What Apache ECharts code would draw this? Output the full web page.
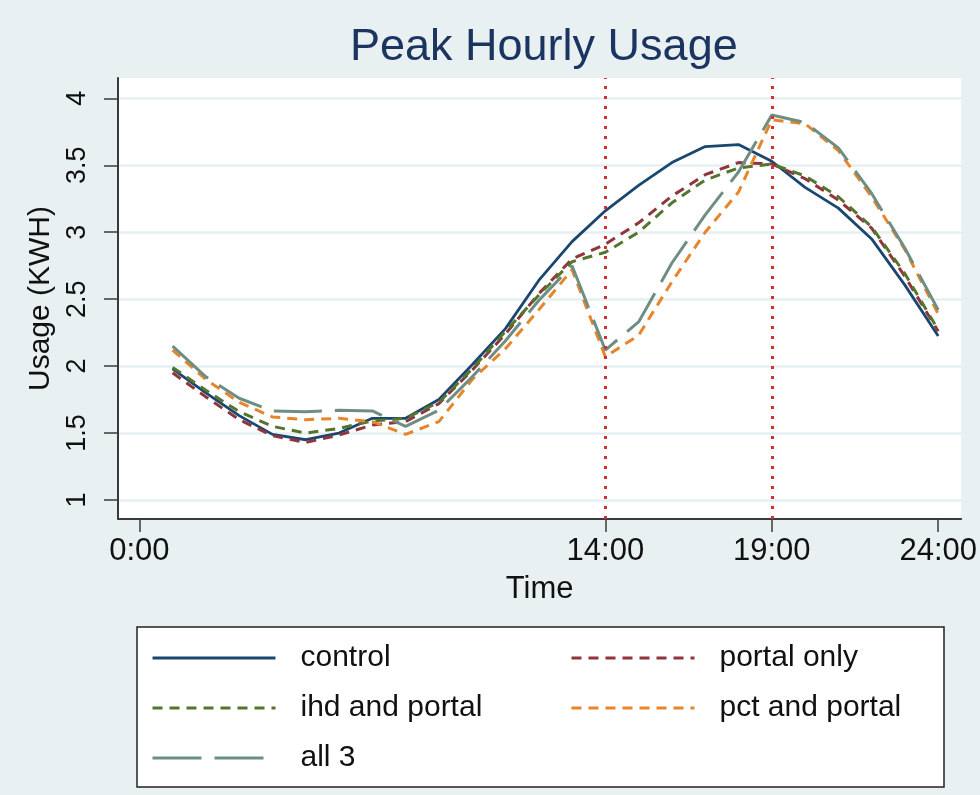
<!DOCTYPE html>
<html>
<head>
<meta charset="utf-8">
<title>Peak Hourly Usage</title>
<script src="https://cdn.jsdelivr.net/npm/echarts@6/dist/echarts.min.js"></script>
<style>
	html, body { margin: 0; padding: 0; background: #e8f0f2; }
	#chart { width: 980px; height: 795px; }
</style>
</head>
<body>
<div id="chart"></div>
<script>
// hour of day for each point
const hours = [1, 2, 3, 4, 5, 6, 7, 8, 9, 10, 11, 12, 13, 14, 15, 16, 17, 18, 19, 20, 21, 22, 23, 24];

const control = [1.98, 1.80, 1.63, 1.49, 1.45, 1.50, 1.61, 1.61, 1.75, 2.01, 2.28, 2.64,
	2.93, 3.16, 3.35, 3.52, 3.64, 3.655, 3.53, 3.335, 3.18, 2.95, 2.605, 2.225];
const portalOnly = [1.95, 1.77, 1.60, 1.48, 1.43, 1.485, 1.56, 1.585, 1.72, 1.97, 2.24, 2.54,
	2.80, 2.91, 3.07, 3.27, 3.43, 3.52, 3.51, 3.40, 3.24, 3.03, 2.67, 2.26];
const ihdPortal = [1.99, 1.82, 1.66, 1.55, 1.50, 1.535, 1.59, 1.61, 1.73, 1.98, 2.26, 2.53,
	2.78, 2.85, 3.00, 3.22, 3.39, 3.48, 3.51, 3.42, 3.265, 3.04, 2.69, 2.27];
const pctPortal = [2.12, 1.90, 1.73, 1.62, 1.60, 1.61, 1.585, 1.49, 1.585, 1.90, 2.13, 2.42,
	2.72, 2.07, 2.23, 2.63, 3.00, 3.30, 3.84, 3.81, 3.61, 3.265, 2.87, 2.39];
const all3 = [2.15, 1.92, 1.76, 1.665, 1.66, 1.67, 1.665, 1.55, 1.67, 1.92, 2.19, 2.49,
	2.75, 2.12, 2.33, 2.77, 3.13, 3.45, 3.875, 3.82, 3.63, 3.29, 2.88, 2.42];

const xTicks = [0, 14, 19, 24];
const yTicks = [1, 1.5, 2, 2.5, 3, 3.5, 4];
const peakHours = [14, 19];

const FONT = '"Liberation Sans", Arial, sans-serif';
const AXIS_COLOR = '#3a3a3a';

let pairs = values => hours.map((h, i) => [h, values[i]]);

function lineSeries(name, values, color, dash, width) {
	return {
		name, type: 'line', data: pairs(values), symbol: 'none',
		lineStyle: { color, type: dash, width },
		itemStyle: { color }
	};
}

let series = [
	lineSeries('control', control, '#1a476f', 'solid', 2.8),
	lineSeries('portal only', portalOnly, '#90353b', [10, 7], 3),
	lineSeries('ihd and portal', ihdPortal, '#55752f', [10, 7], 3),
	lineSeries('pct and portal', pctPortal, '#e8842a', [10, 7], 3),
	lineSeries('all 3', all3, '#6e8e84', [48, 13], 3)
];
series[0].markLine = {
	symbol: 'none', silent: true, label: { show: false },
	lineStyle: { color: '#d0302f', type: [3, 7], width: 3 },
	data: peakHours.map(h => ({ xAxis: h }))
};

// two columns so the entries line up like the original key
function legendColumn(left, names) {
	return {
		orient: 'vertical', left, top: 643, padding: 0,
		icon: 'inherit',
		itemWidth: 123, itemHeight: 14, itemGap: 20,
		itemStyle: { opacity: 0 },
		lineStyle: { width: 3 },
		data: names,
		textStyle: { fontFamily: FONT, fontSize: 30, lineHeight: 30, color: '#111', padding: [0, 0, 0, 20] }
	};
}

let chart = echarts.init(document.getElementById('chart'));
chart.setOption({
	backgroundColor: '#e8f0f2',
	animation: false,
	title: {
		text: 'Peak Hourly Usage', left: 345, top: 20,
		textStyle: { fontFamily: FONT, fontSize: 45, fontWeight: 'normal', color: '#1c3560' }
	},
	grid: {
		left: 118, top: 78, right: 17, bottom: 276,
		show: true, backgroundColor: '#fff', borderWidth: 0
	},
	xAxis: {
		type: 'value', min: -0.64, max: 24.69,
		name: 'Time', nameLocation: 'middle', nameGap: 55,
		nameTextStyle: { fontFamily: FONT, fontSize: 31, color: '#111' },
		axisLine: { show: true, onZero: false, lineStyle: { color: AXIS_COLOR, width: 2 } },
		axisTick: { show: true, customValues: xTicks, length: 13, lineStyle: { color: AXIS_COLOR, width: 1.5 } },
		axisLabel: {
			customValues: xTicks, formatter: v => v + ':00', margin: 17,
			fontFamily: FONT, fontSize: 31, color: '#111'
		},
		splitLine: { show: false }
	},
	yAxis: {
		type: 'value', min: 0.858, max: 4.152,
		name: 'Usage (KWH)', nameLocation: 'middle', nameGap: 58,
		nameTextStyle: { fontFamily: FONT, fontSize: 30, color: '#111' },
		axisLine: { show: true, onZero: false, lineStyle: { color: AXIS_COLOR, width: 2 } },
		axisTick: { show: true, customValues: yTicks, length: 14, lineStyle: { color: AXIS_COLOR, width: 1.5 } },
		axisLabel: {
			customValues: yTicks, rotate: 90, margin: 27,
			fontFamily: FONT, fontSize: 27, color: '#111'
		},
		splitLine: { show: true, lineStyle: { color: '#e6eff1', width: 2.5 } }
	},
	legend: [
		legendColumn(151, ['control', 'ihd and portal', { name: 'all 3', lineStyle: { type: [49, 13, 49, 30] } }]),
		legendColumn(570, ['portal only', 'pct and portal'])
	],
	graphic: [{
		type: 'rect', z: -1,
		shape: { x: 137, y: 627, width: 807, height: 160 },
		style: { fill: '#fff', stroke: '#222', lineWidth: 1.5 }
	}],
	series
});
</script>
</body>
</html>
